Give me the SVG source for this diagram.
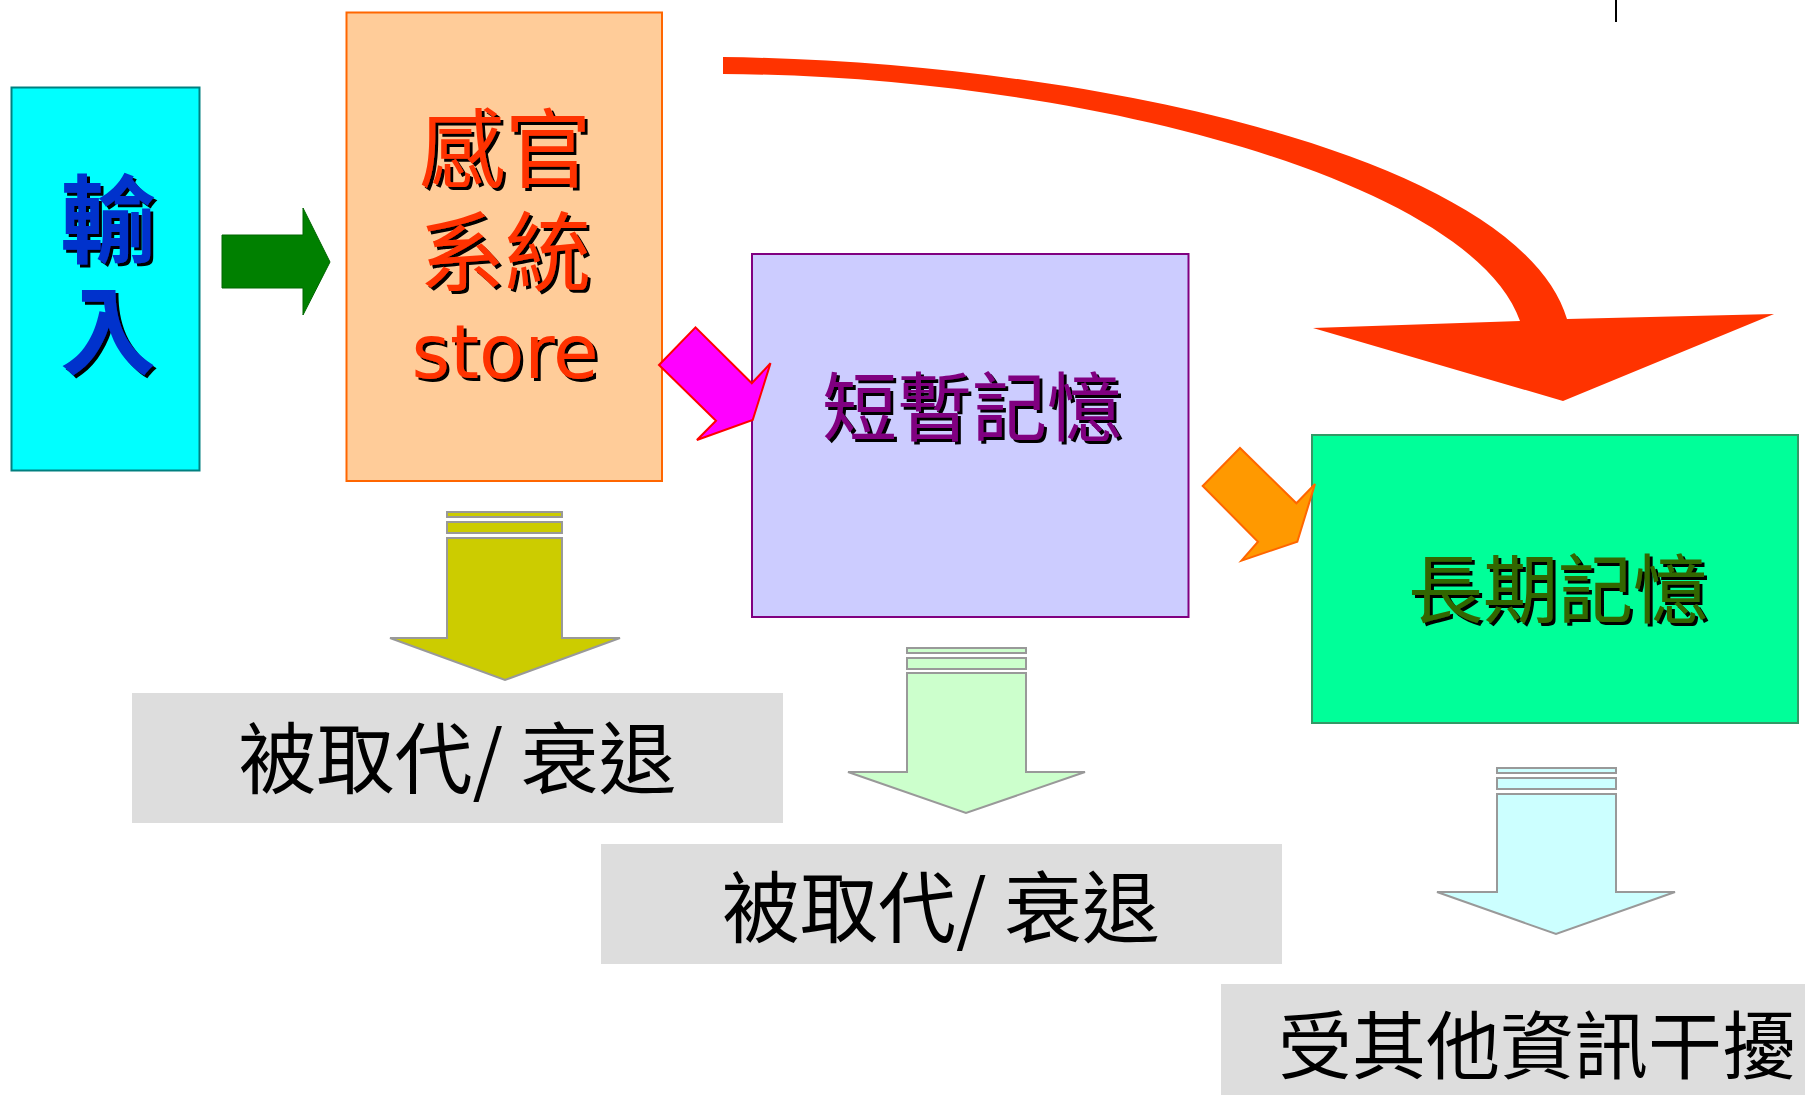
<svg xmlns="http://www.w3.org/2000/svg" width="1805" height="1095" viewBox="0 0 1805 1095">
<defs>
<filter id="shadow" x="-10%" y="-10%" width="130%" height="130%">
  <feOffset in="SourceAlpha" dx="3" dy="3" result="off"/>
  <feMerge><feMergeNode in="off"/><feMergeNode in="SourceGraphic"/></feMerge>
</filter>
</defs>
<style>
.cjk{font-family:"Noto Sans CJK TC","Noto Sans CJK SC",sans-serif;}
.lat{font-family:"DejaVu Sans","Liberation Sans",sans-serif;}
.sh{filter:url(#shadow);}
.gray{fill:#DDDDDD;stroke:none;}
.lbl{font-size:78px;fill:#000000;}
.dn{stroke:#999999;stroke-width:2;}
</style>
<rect x="0" y="0" width="1805" height="1095" fill="#FFFFFF"/>
<line x1="1616" y1="0" x2="1616" y2="22" stroke="#000000" stroke-width="2"/>

<g id="node-input">
  <rect x="11.5" y="87.5" width="188" height="383" fill="#00FFFF" stroke="#008080" stroke-width="2"/>
  <text class="cjk sh" x="108" y="255" font-size="96" font-weight="bold" text-anchor="middle" fill="#0033CC">輸<tspan x="108" y="366">入</tspan></text>
</g>

<g id="node-sensory">
  <rect x="346.5" y="12.5" width="315.5" height="468.5" fill="#FFCC99" stroke="#FF6600" stroke-width="2"/>
  <text class="cjk sh" x="505" y="181" font-size="86" text-anchor="middle" fill="#FF3300">感官<tspan x="505" y="284">系統</tspan><tspan class="lat" x="505" y="378" font-size="74">store</tspan></text>
</g>

<g id="node-short">
  <rect x="752" y="254" width="436.5" height="363" fill="#CCCCFF" stroke="#800080" stroke-width="2"/>
  <text class="cjk sh" x="972" y="435" font-size="75" text-anchor="middle" fill="#800080">短暫記憶</text>
</g>

<g id="node-long">
  <rect x="1312" y="435" width="486" height="288" fill="#00FF99" stroke="#339966" stroke-width="2"/>
  <text class="cjk sh" x="1558" y="617" font-size="75" text-anchor="middle" fill="#336600">長期記憶</text>
</g>

<g id="node-decay-1">
  <rect class="gray" x="132" y="693" width="651" height="130"/>
  <text class="cjk lbl" x="457.5" y="788" text-anchor="middle">被取代/ 衰退</text>
</g>

<g id="node-decay-2">
  <rect class="gray" x="601" y="844" width="681" height="120"/>
  <text class="cjk lbl" x="941" y="937" text-anchor="middle">被取代/ 衰退</text>
</g>

<g id="node-interference">
  <rect class="gray" x="1221" y="984" width="584" height="111"/>
  <text class="cjk" x="1278" y="1073" font-size="74" fill="#000000">受其他資訊干擾</text>
</g>

<g id="connectors">
  <polygon id="arrow-input-sensory" points="222,235 303,235 303,208 330,262 303,315 303,288 222,288" fill="#008000" stroke="#006600" stroke-width="1"/>
  <polygon id="arrow-sensory-short" points="659,365 695.5,327.3 751.8,383.3 770.5,363.3 752.7,420 696.9,440 716,420.7" fill="#FF00FF" stroke="#FF0000" stroke-width="2"/>
  <polygon id="arrow-short-long" points="1202.7,486 1240,448 1296.4,503.3 1315,484 1297.3,541.7 1241.5,560.7 1258,541.7" fill="#FF9900" stroke="#FF6600" stroke-width="2"/>
  <path id="arrow-sensory-long" d="M723,57 C1100,62 1520,160 1567,319 L1774,314 L1563,401 L1313,328 L1520,321 C1470,180 1080,76 723,74 Z" fill="#FF3300"/>
  <g id="arrow-decay-1">
    <rect class="dn" x="447" y="512" width="115" height="5" fill="#CCCC00"/>
    <rect class="dn" x="447" y="522" width="115" height="11" fill="#CCCC00"/>
    <polygon class="dn" points="447,538 562,538 562,638 620,638 505,680 390,638 447,638" fill="#CCCC00"/>
  </g>
  <g id="arrow-decay-2">
    <rect class="dn" x="907" y="648" width="119" height="5" fill="#CCFFCC"/>
    <rect class="dn" x="907" y="658" width="119" height="11" fill="#CCFFCC"/>
    <polygon class="dn" points="907,673 1026,673 1026,772 1085,772 966,813 848,772 907,772" fill="#CCFFCC"/>
  </g>
  <g id="arrow-interference">
    <rect class="dn" x="1497" y="768" width="119" height="5" fill="#CCFFFF"/>
    <rect class="dn" x="1497" y="778" width="119" height="11" fill="#CCFFFF"/>
    <polygon class="dn" points="1497,794 1616,794 1616,892 1675,892 1556,934 1437,892 1497,892" fill="#CCFFFF"/>
  </g>
</g>
</svg>
